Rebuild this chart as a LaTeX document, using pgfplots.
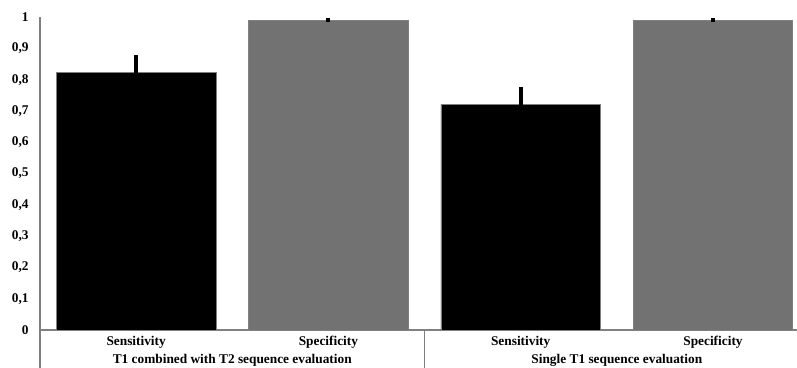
\documentclass[border=0pt]{standalone}
\usepackage{fontspec}
\setmainfont{Liberation Serif}
\usepackage{pgfplots}
\pgfplotsset{compat=1.18}
\definecolor{bargray}{RGB}{114,114,114}
\definecolor{axgray}{RGB}{128,128,128}
\begin{document}
\begin{tikzpicture}
\begin{axis}[
  scale only axis, width=567.75pt, height=234.75pt,
  xmin=-0.5, xmax=3.437, ymin=0, ymax=1,
  axis x line=bottom, axis y line=left,
  axis line style={axgray, line width=0.8pt, -},
  xtick={0,1,2,3},
  xticklabels={Sensitivity,Specificity,Sensitivity,Specificity},
  ytick={0,0.1,0.2,0.3,0.4,0.5,0.6,0.7,0.8,0.9,1},
  major tick length=0pt,
  /pgf/number format/assume math mode=true,
  yticklabel style={/pgf/number format/use comma, /pgf/number format/fixed, xshift=-5pt},
  ticklabel style={font=\bfseries\fontsize{10}{12}\selectfont},
  xticklabel style={text height=7pt, text depth=2pt, yshift=-1pt},
  clip=false,
]
\addplot[ybar, bar width=0.83, bar shift=0pt, fill=black, draw=axgray, line width=0.5pt,
  error bars/.cd, y dir=plus, y explicit,
  error bar style={line width=3pt, black, line cap=rect}, error mark=none]
  coordinates {(0,0.822) +- (0,0.050) (2,0.721) +- (0,0.048)};
\addplot[ybar, bar width=0.83, bar shift=0pt, fill=bargray, draw=axgray, line width=0.5pt,
  error bars/.cd, y dir=plus, y explicit,
  error bar style={line width=3pt, black, line cap=rect}, error mark=none]
  coordinates {(1,0.990) +- (0,0.002) (3,0.990) +- (0,0.002)};
\node[font=\bfseries\fontsize{10}{12}\selectfont, text height=7pt, text depth=2pt] at (axis cs:0.5,0) [yshift=-22.5pt] {T1 combined with T2 sequence evaluation};
\node[font=\bfseries\fontsize{10}{12}\selectfont, text height=7pt, text depth=2pt] at (axis cs:2.5,0) [yshift=-22.5pt] {Single T1 sequence evaluation};
\draw[axgray, line width=0.8pt] (axis cs:-0.5,0) -- ([yshift=-28.5pt]axis cs:-0.5,0);
\draw[axgray, line width=0.8pt] (axis cs:1.5,0) -- ([yshift=-28.5pt]axis cs:1.5,0);
\end{axis}
\pgfresetboundingbox
\path[use as bounding box] (-30pt,-28.5pt) rectangle (567.75pt,247.5pt);
\end{tikzpicture}
\end{document}
